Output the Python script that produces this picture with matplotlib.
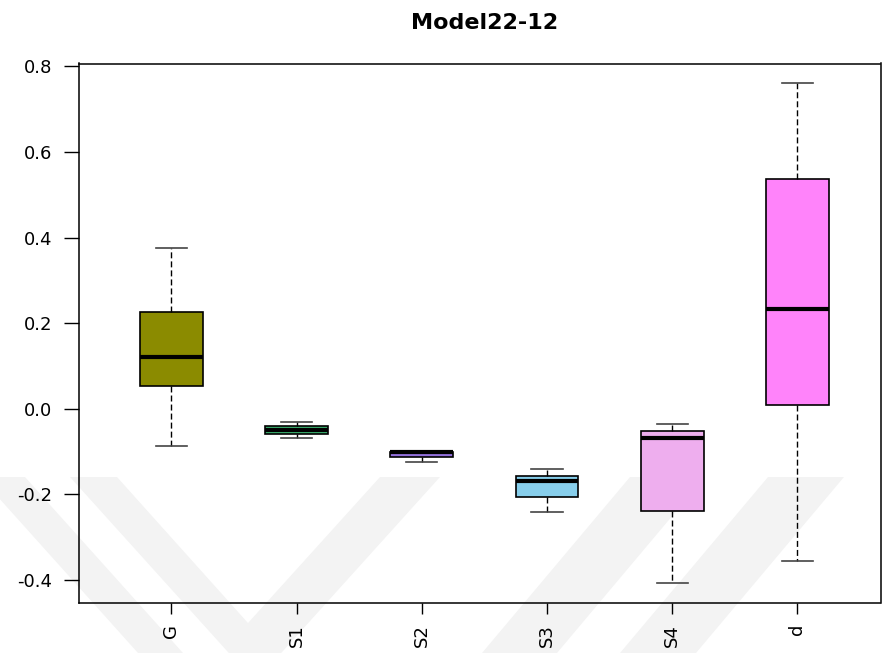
import matplotlib
matplotlib.use("Agg")
import matplotlib.pyplot as plt
from matplotlib.patches import Polygon

# Box statistics
labels = ["G", "S1", "S2", "S3", "S4", "d"]
whis_lo = [-0.088, -0.068, -0.124, -0.242, -0.407, -0.355]
q1 = [0.053, -0.058, -0.113, -0.206, -0.238, 0.010]
medians = [0.122, -0.049, -0.101, -0.169, -0.069, 0.234]
q3 = [0.226, -0.040, -0.100, -0.156, -0.053, 0.537]
whis_hi = [0.376, -0.031, -0.100, -0.140, -0.036, 0.760]
fills = ["#8B8B00", "#3CB371", "#9370DB", "#87CEEB", "#EEAEEE", "#FF83FA"]
yticks = [-0.4, -0.2, 0.0, 0.2, 0.4, 0.6, 0.8]

W, H = 882, 653
fig = plt.figure(figsize=(W / 100, H / 100), dpi=100)
plt.rcParams['font.family'] = ['DejaVu Sans']

# faint watermark chevrons behind the plot (pixel coords, top-left origin)
def px(pts):
    return [(x / W, 1 - y / H) for x, y in pts]

marks = [
    [(70, 477), (117, 477), (248, 623), (380, 477), (440, 477), (255, 682)],
    [(-20, 477), (25, 477), (183, 653), (138, 653)],
    [(630, 477), (705, 477), (557, 653), (482, 653)],
    [(768, 477), (844, 477), (696, 653), (620, 653)],
]
for m in marks:
    fig.patches.append(Polygon(px(m), closed=True, transform=fig.transFigure,
                               facecolor="#f3f3f3", edgecolor="none", zorder=-5))

ax = fig.add_axes([79 / W, 1 - 603 / H, (880.5 - 79) / W, (603 - 63.5) / H])
ax.set_facecolor("none")
ax.set_zorder(1)

stats = []
for i, lab in enumerate(labels):
    stats.append(dict(label=lab, whislo=whis_lo[i], q1=q1[i], med=medians[i],
                      q3=q3[i], whishi=whis_hi[i], fliers=[]))

bp = ax.bxp(stats, positions=range(1, len(labels) + 1), widths=0.5,
            patch_artist=True, showfliers=False,
            boxprops=dict(edgecolor="black", linewidth=1.2),
            medianprops=dict(color="black", linewidth=3.0, solid_capstyle="butt"),
            whiskerprops=dict(color="black", linewidth=1.0, linestyle=(0, (4.3, 2.2))),
            capprops=dict(color="#444444", linewidth=1.2),
            capwidths=0.25)
for box, c in zip(bp["boxes"], fills):
    box.set_facecolor(c)

ax.set_xlim(1 - 92.3 / 125.2, 6 + 83.0 / 125.2)
lo, hi = min(whis_lo), max(whis_hi)
ax.set_ylim(lo - 0.04 * (hi - lo), hi + 0.04 * (hi - lo))
ax.set_yticks(yticks)
ax.set_yticklabels([f"{v:.1f}" for v in yticks])
ax.set_xticks(range(1, len(labels) + 1))
ax.set_xticklabels(labels, rotation=90)

ax.tick_params(axis="y", length=10.5, width=1.0, pad=9, labelsize=13, colors="black")
ax.tick_params(axis="x", length=8, width=1.0, pad=7, labelsize=13, colors="black")
for s in ax.spines.values():
    s.set_linewidth(1.1)
    s.set_color("black")

ax.set_title("Model22-12", fontsize=16, fontweight="bold", pad=25, x=0.506)

fig.savefig("out.png", dpi=100)
